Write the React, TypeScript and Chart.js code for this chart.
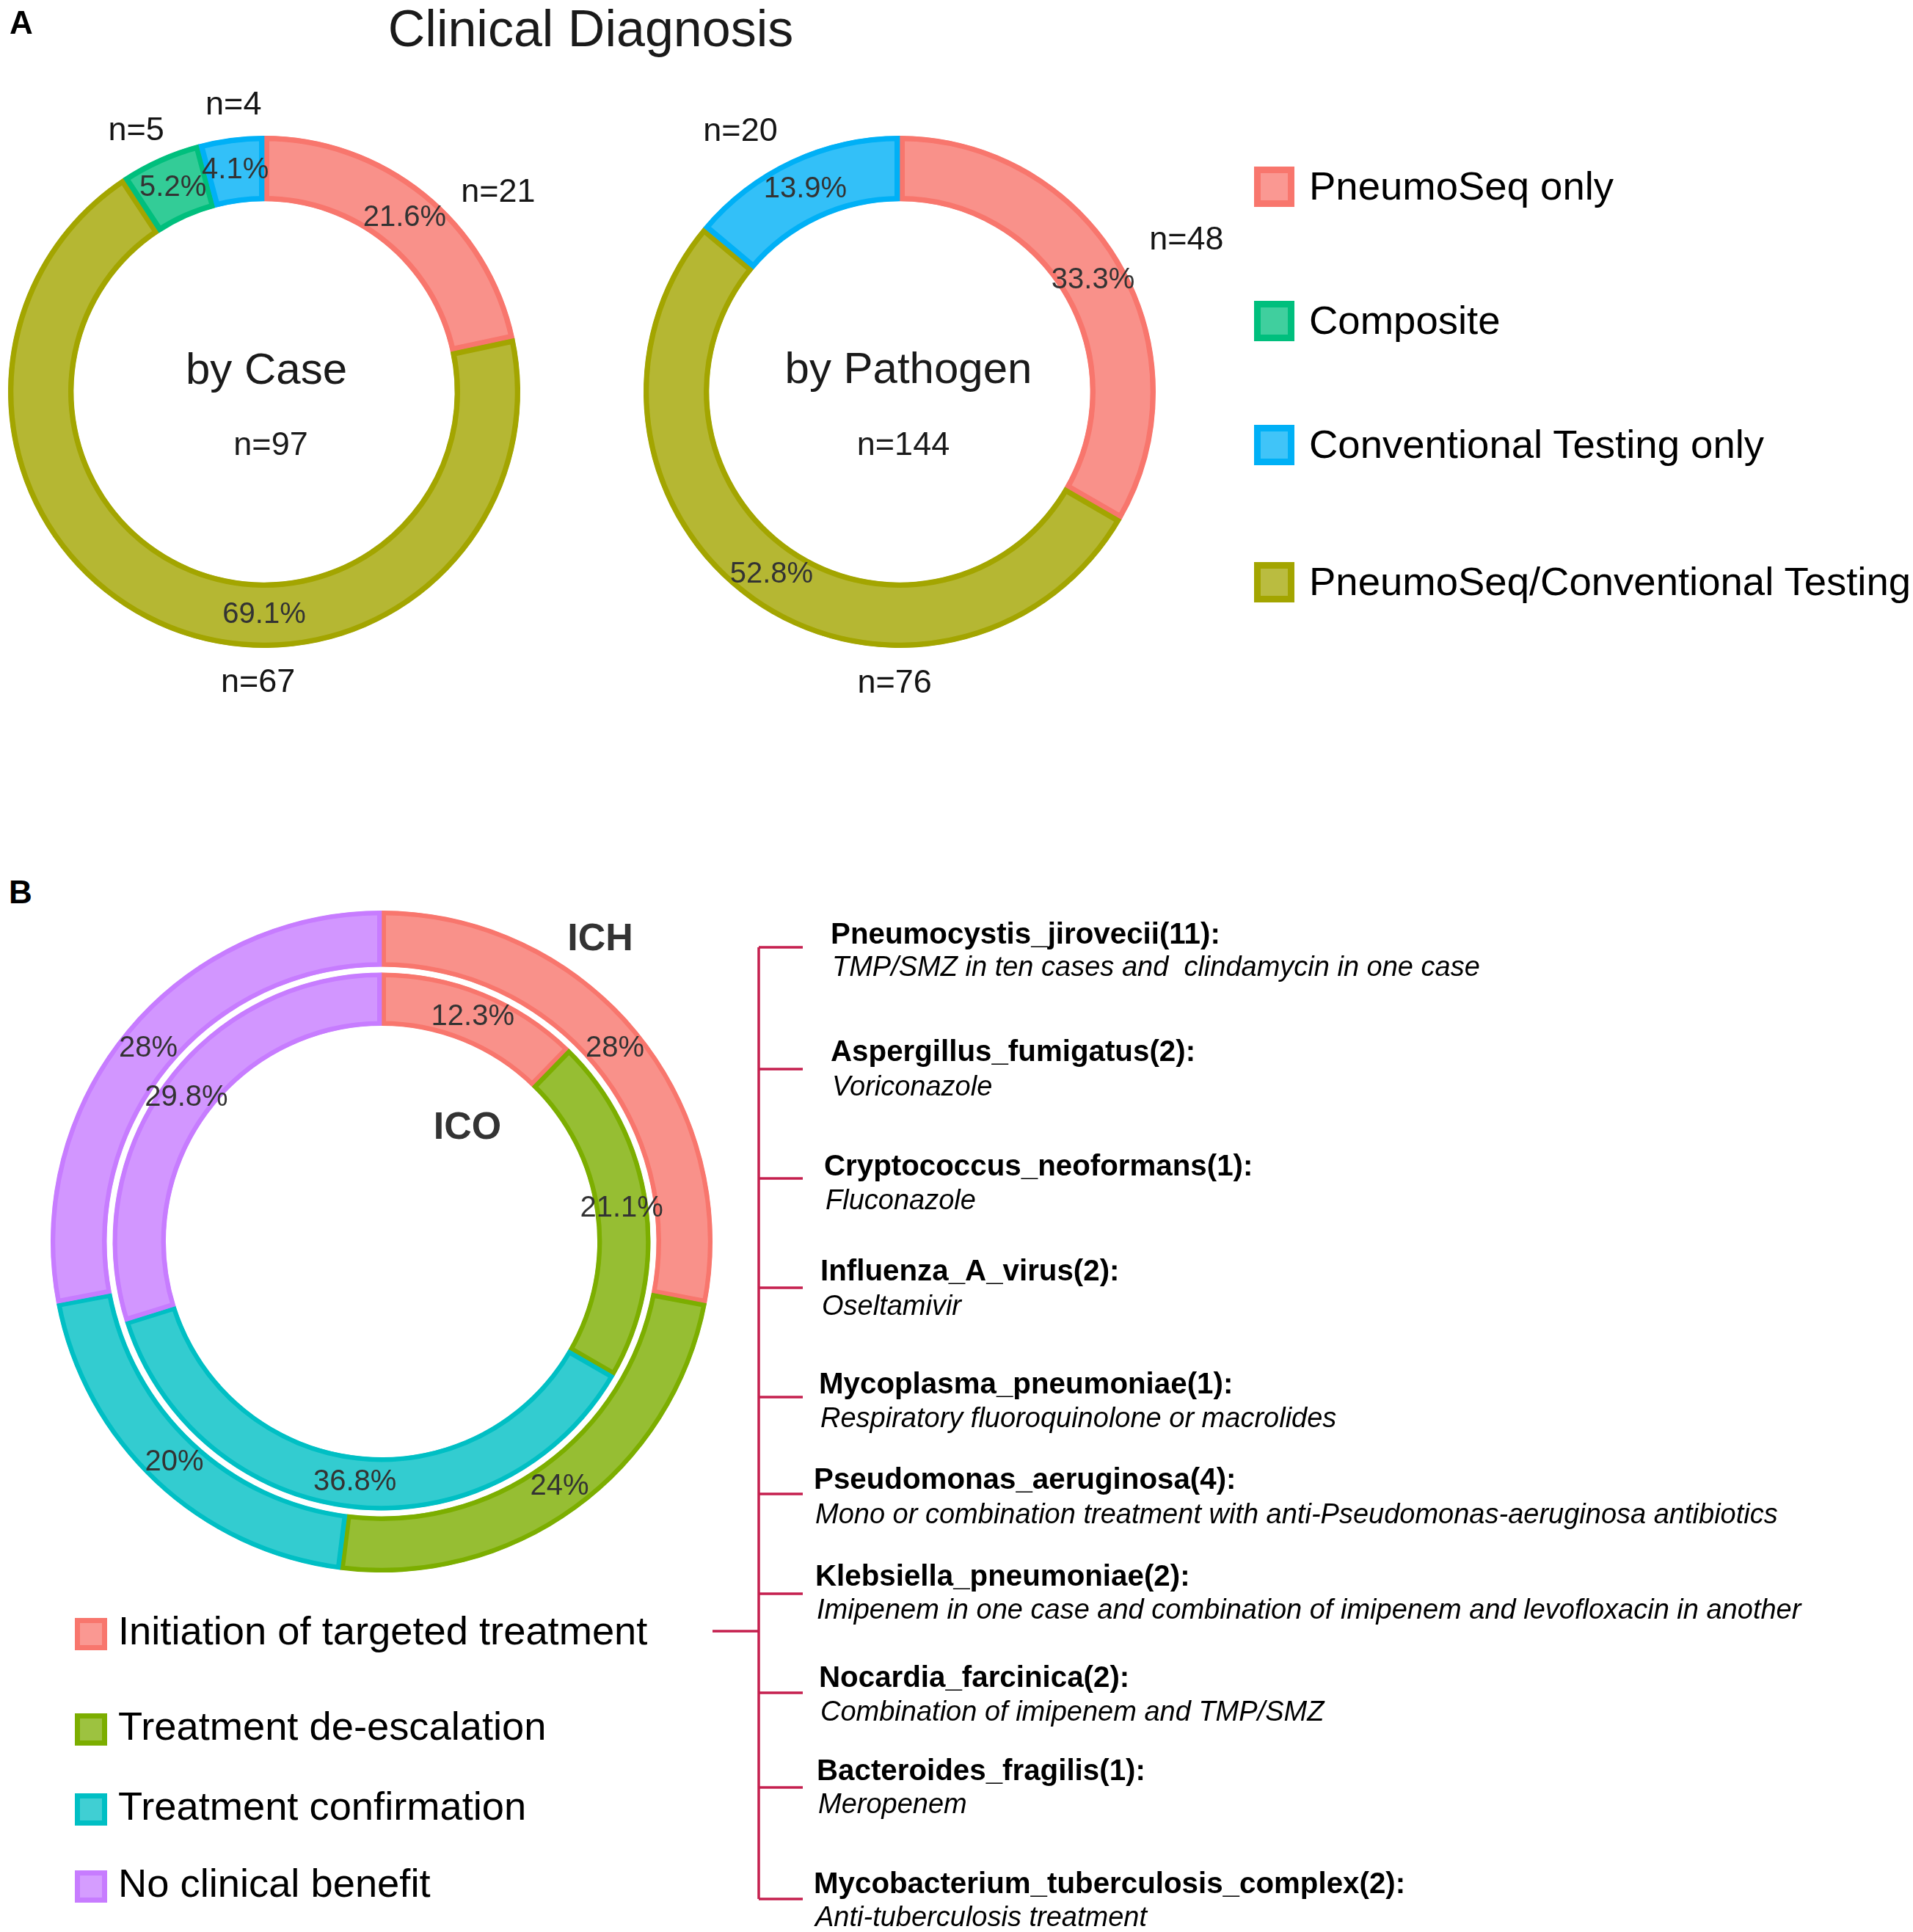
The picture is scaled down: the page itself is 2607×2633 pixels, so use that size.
import React, { useEffect, useRef } from "react";
import { Chart, registerables } from "chart.js";

Chart.register(...registerables);

const FONT = "'Liberation Sans', Arial, Helvetica, sans-serif";

// ---------------- Panel A data ----------------
const diagnosisCategories = [
  "PneumoSeq only",
  "Composite",
  "Conventional Testing only",
  "PneumoSeq/Conventional Testing",
];
const diagnosisColors = ["#F8766D", "#00BF7D", "#00B0F6", "#A3A500"];
const caseCounts = [21, 5, 4, 67];
const pathogenCounts = [48, 0, 20, 76];
// order in which the categories run clockwise round the ring from 12 o'clock
const ringOrder = [0, 3, 1, 2];

// ---------------- Panel B data ----------------
const benefitCategories = [
  "Initiation of targeted treatment",
  "Treatment de-escalation",
  "Treatment confirmation",
  "No clinical benefit",
];
const benefitColors = ["#F8766D", "#7CAE00", "#00BFC4", "#C77CFF"];
const ichCounts = [7, 6, 5, 7];
const icoCounts = [7, 12, 21, 17];

const pathogenNames = [
  "Pneumocystis_jirovecii(11):",
  "Aspergillus_fumigatus(2):",
  "Cryptococcus_neoformans(1):",
  "Influenza_A_virus(2):",
  "Mycoplasma_pneumoniae(1):",
  "Pseudomonas_aeruginosa(4):",
  "Klebsiella_pneumoniae(2):",
  "Nocardia_farcinica(2):",
  "Bacteroides_fragilis(1):",
  "Mycobacterium_tuberculosis_complex(2):",
];
const pathogenTreatments = [
  "TMP/SMZ in ten cases and  clindamycin in one case",
  "Voriconazole",
  "Fluconazole",
  "Oseltamivir",
  "Respiratory fluoroquinolone or macrolides",
  "Mono or combination treatment with anti-Pseudomonas-aeruginosa antibiotics",
  "Imipenem in one case and combination of imipenem and levofloxacin in another",
  "Combination of imipenem and TMP/SMZ",
  "Meropenem",
  "Anti-tuberculosis treatment",
];

// ---------------- layout (positions only) ----------------
const caseNLabelAngles = [49.6, 181.2, 333.9, 353.9];
const caseNLabelRadius = [1.2, 1.138, 1.135, 1.126];
const casePctAngles: (number | null)[] = [null, 180, null, null];
const pathNLabelAngles = [62.2, 181, 0, 328.5];
const pathNLabelRadius = [1.266, 1.138, 1, 1.19];
const treeTickY = [1291, 1457, 1606, 1755, 1904, 2036, 2172, 2307, 2436, 2588];
const treeNameY = [1287, 1447, 1603, 1746, 1900, 2030, 2162, 2300, 2427, 2581];
const treeDescY = [1330, 1493, 1648, 1792, 1945, 2076, 2206, 2345, 2471, 2625];
const treeTextX = [1132, 1132, 1123, 1118, 1116, 1109, 1111, 1116, 1113, 1109];
const legendAY = [254, 437, 606, 793];
const legendBY = [2227, 2357, 2466, 2571];

const alpha = (hex: string, a: number) => {
  const n = parseInt(hex.slice(1), 16);
  return `rgba(${(n >> 16) & 255},${(n >> 8) & 255},${n & 255},${a})`;
};
const sum = (a: number[]) => a.reduce((s, v) => s + v, 0);
const pct = (v: number, total: number) => `${Math.round((v / total) * 1000) / 10}%`;

type LabelSpec = {
  dataset: number;
  texts: string[];
  angles?: (number | null)[];
  radii?: (number | null)[];
  font: string;
  color: string;
};

const arcTextPlugin = (specs: LabelSpec[]) => ({
  id: "arcText",
  afterDatasetsDraw(chart: any) {
    const ctx = chart.ctx;
    ctx.save();
    ctx.textAlign = "center";
    ctx.textBaseline = "middle";
    for (const s of specs) {
      const meta = chart.getDatasetMeta(s.dataset);
      meta.data.forEach((el: any, i: number) => {
        const text = s.texts[i];
        if (!text) return;
        const p = el.getProps(["x", "y", "startAngle", "endAngle", "innerRadius", "outerRadius"], true);
        const a =
          s.angles && s.angles[i] != null
            ? ((s.angles[i] as number) * Math.PI) / 180 - Math.PI / 2
            : (p.startAngle + p.endAngle) / 2;
        const r =
          s.radii && s.radii[i] != null
            ? (s.radii[i] as number) * p.outerRadius
            : (p.innerRadius + p.outerRadius) / 2;
        ctx.font = s.font;
        ctx.fillStyle = s.color;
        ctx.fillText(text, p.x + r * Math.cos(a), p.y + r * Math.sin(a));
      });
    }
    ctx.restore();
  },
});

function ringAConfig(counts: number[], nAngles: number[], nRadii: number[], pctAngles?: (number | null)[]) {
  const labels = ringOrder.map((i) => diagnosisCategories[i]);
  const data = ringOrder.map((i) => counts[i]);
  const colors = ringOrder.map((i) => diagnosisColors[i]);
  const total = sum(data);
  return {
    type: "doughnut",
    data: {
      labels,
      datasets: [
        {
          data,
          backgroundColor: colors.map((c) => alpha(c, 0.8)),
          borderColor: colors,
          borderWidth: 7,
          borderAlign: "inner",
        },
      ],
    },
    options: {
      responsive: false,
      maintainAspectRatio: false,
      animation: false,
      events: [],
      radius: 349,
      cutout: "74.4%",
      layout: { padding: 0 },
      plugins: { legend: { display: false }, tooltip: { enabled: false } },
    },
    plugins: [
      arcTextPlugin([
        {
          dataset: 0,
          texts: data.map((v) => (v > 0 ? pct(v, total) : "")),
          angles: pctAngles,
          font: `40px ${FONT}`,
          color: "#333333",
        },
        {
          dataset: 0,
          texts: data.map((v) => (v > 0 ? `n=${v}` : "")),
          angles: nAngles,
          radii: nRadii,
          font: `45px ${FONT}`,
          color: "#151515",
        },
      ]),
    ],
  };
}

function ringBConfig() {
  const ichTotal = sum(ichCounts);
  const icoTotal = sum(icoCounts);
  return {
    type: "doughnut",
    data: {
      labels: benefitCategories,
      datasets: [
        {
          label: "ICH",
          data: ichCounts,
          weight: 76,
          backgroundColor: benefitColors.map((c) => alpha(c, 0.8)),
          borderColor: benefitColors,
          borderWidth: 6,
          borderAlign: "inner",
        },
        {
          label: "gap",
          data: [1],
          weight: 8,
          backgroundColor: "rgba(0,0,0,0)",
          borderWidth: 0,
        },
        {
          label: "ICO",
          data: icoCounts,
          weight: 72,
          backgroundColor: benefitColors.map((c) => alpha(c, 0.8)),
          borderColor: benefitColors,
          borderWidth: 6,
          borderAlign: "inner",
        },
      ],
    },
    options: {
      responsive: false,
      maintainAspectRatio: false,
      animation: false,
      events: [],
      radius: 451,
      cutout: "65.2%",
      layout: { padding: 0 },
      plugins: { legend: { display: false }, tooltip: { enabled: false } },
    },
    plugins: [
      arcTextPlugin([
        { dataset: 0, texts: ichCounts.map((v) => pct(v, ichTotal)), font: `40px ${FONT}`, color: "#333333" },
        { dataset: 2, texts: icoCounts.map((v) => pct(v, icoTotal)), font: `40px ${FONT}`, color: "#333333" },
      ]),
    ],
  };
}

function ChartCanvas({ cx, cy, size, make }: { cx: number; cy: number; size: number; make: () => any }) {
  const ref = useRef<HTMLCanvasElement>(null);
  useEffect(() => {
    const chart = new Chart(ref.current as HTMLCanvasElement, make());
    return () => chart.destroy();
  }, []);
  return (
    <canvas
      ref={ref}
      width={size}
      height={size}
      style={{ position: "absolute", left: cx - size / 2, top: cy - size / 2, width: size, height: size }}
    />
  );
}

function T({
  x,
  y,
  size,
  bold,
  italic,
  center,
  color = "#000",
  children,
}: {
  x: number;
  y: number;
  size: number;
  bold?: boolean;
  italic?: boolean;
  center?: boolean;
  color?: string;
  children: React.ReactNode;
}) {
  return (
    <div
      style={{
        position: "absolute",
        left: x,
        top: y - 0.8465 * size,
        fontFamily: FONT,
        fontSize: size,
        lineHeight: `${size}px`,
        fontWeight: bold ? 700 : 400,
        fontStyle: italic ? "italic" : "normal",
        color,
        whiteSpace: "pre",
        transform: center ? "translateX(-50%)" : undefined,
      }}
    >
      {children}
    </div>
  );
}

function Key({ x, cy, size, border, color }: { x: number; cy: number; size: number; border: number; color: string }) {
  return (
    <div
      style={{
        position: "absolute",
        left: x,
        top: cy - size / 2,
        width: size - 2 * border,
        height: size - 2 * border,
        border: `${border}px solid ${color}`,
        background: alpha(color, 0.75),
      }}
    />
  );
}

export default function App() {
  const treeColor = "#C51F4E";
  return (
    <div
      style={{
        position: "absolute",
        left: 0,
        top: 0,
        width: 2607,
        height: 2633,
        background: "#fff",
        overflow: "hidden",
      }}
    >
      <ChartCanvas
        cx={360}
        cy={534}
        size={960}
        make={() => ringAConfig(caseCounts, caseNLabelAngles, caseNLabelRadius, casePctAngles)}
      />
      <ChartCanvas
        cx={1226}
        cy={534}
        size={960}
        make={() => ringAConfig(pathogenCounts, pathNLabelAngles, pathNLabelRadius)}
      />
      <ChartCanvas cx={520} cy={1692} size={920} make={ringBConfig} />

      <T x={13} y={46} size={44} bold>
        A
      </T>
      <T x={805} y={63} size={70} center color="#1a1a1a">
        Clinical Diagnosis
      </T>
      <T x={363} y={524} size={60} center color="#1a1a1a">
        by Case
      </T>
      <T x={369} y={620} size={45} center color="#1a1a1a">
        n={sum(caseCounts)}
      </T>
      <T x={1238} y={523} size={60} center color="#1a1a1a">
        by Pathogen
      </T>
      <T x={1231} y={620} size={45} center color="#1a1a1a">
        n={sum(pathogenCounts)}
      </T>

      {diagnosisCategories.map((c, i) => (
        <React.Fragment key={c}>
          <Key x={1709} cy={legendAY[i]} size={55} border={9} color={diagnosisColors[i]} />
          <T x={1784} y={legendAY[i] + 19} size={54.5} color="#000">
            {c}
          </T>
        </React.Fragment>
      ))}

      <T x={12} y={1231} size={44} bold>
        B
      </T>
      <T x={818} y={1295} size={52} bold center color="#333333">
        ICH
      </T>
      <T x={637} y={1552} size={52} bold center color="#333333">
        ICO
      </T>

      {benefitCategories.map((c, i) => (
        <React.Fragment key={c}>
          <Key x={102} cy={legendBY[i]} size={44} border={7} color={benefitColors[i]} />
          <T x={161} y={legendBY[i] + 15} size={54.3} color="#000">
            {c}
          </T>
        </React.Fragment>
      ))}

      <svg
        width={2607}
        height={2633}
        style={{ position: "absolute", left: 0, top: 0, pointerEvents: "none" }}
      >
        <line
          x1={1034}
          y1={treeTickY[0]}
          x2={1034}
          y2={treeTickY[treeTickY.length - 1]}
          stroke={treeColor}
          strokeWidth={3.5}
        />
        {treeTickY.map((y, i) => (
          <line key={i} x1={1034} y1={y} x2={1094} y2={y} stroke={treeColor} strokeWidth={3.5} />
        ))}
        <line x1={971} y1={2223} x2={1034} y2={2223} stroke={treeColor} strokeWidth={3.5} />
      </svg>

      {pathogenNames.map((n, i) => (
        <React.Fragment key={n}>
          <T x={treeTextX[i]} y={treeNameY[i]} size={40.3} bold>
            {n}
          </T>
          <T x={treeTextX[i] + 2} y={treeDescY[i]} size={38} italic>
            {pathogenTreatments[i]}
          </T>
        </React.Fragment>
      ))}
    </div>
  );
}
